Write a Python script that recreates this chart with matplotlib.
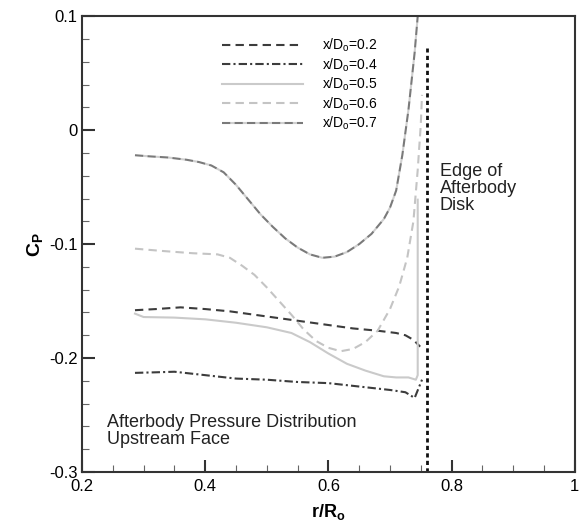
import matplotlib
matplotlib.use('Agg')
import matplotlib.pyplot as plt
from matplotlib.ticker import MultipleLocator, FuncFormatter

plt.rcParams['font.family'] = ['Liberation Sans', 'DejaVu Sans']
plt.rcParams['mathtext.fontset'] = 'custom'
plt.rcParams['mathtext.rm'] = 'Liberation Sans'
plt.rcParams['mathtext.bf'] = 'Liberation Sans:bold'
plt.rcParams['axes.unicode_minus'] = False

# datos (r/R0, Cp)
x_02 = [0.286, 0.32, 0.36, 0.40, 0.44, 0.48, 0.52, 0.56, 0.60, 0.64, 0.68, 0.71, 0.725, 0.738, 0.749]
cp_02 = [-0.158, -0.157, -0.1555, -0.157, -0.159, -0.162, -0.165, -0.168, -0.171, -0.174, -0.176,
         -0.178, -0.180, -0.184, -0.190]

x_04 = [0.286, 0.32, 0.35, 0.40, 0.45, 0.50, 0.55, 0.60, 0.65, 0.70, 0.725, 0.74, 0.752]
cp_04 = [-0.213, -0.2125, -0.212, -0.215, -0.218, -0.219, -0.221, -0.222, -0.225, -0.228, -0.230,
         -0.235, -0.219]

x_05 = [0.286, 0.30, 0.35, 0.40, 0.45, 0.50, 0.54, 0.57, 0.60, 0.63, 0.66, 0.69, 0.71, 0.73, 0.742,
        0.745, 0.745]
cp_05 = [-0.161, -0.164, -0.1645, -0.166, -0.169, -0.173, -0.178, -0.186, -0.196, -0.205, -0.211,
         -0.216, -0.217, -0.217, -0.219, -0.215, -0.061]

x_06 = [0.286, 0.33, 0.38, 0.42, 0.44, 0.46, 0.48, 0.50, 0.52, 0.54, 0.56, 0.58, 0.60, 0.62, 0.64,
        0.66, 0.68, 0.70, 0.715, 0.728, 0.738, 0.745, 0.750, 0.752]
cp_06 = [-0.104, -0.106, -0.108, -0.109, -0.112, -0.119, -0.127, -0.138, -0.150, -0.162, -0.175,
         -0.185, -0.191, -0.194, -0.192, -0.186, -0.176, -0.157, -0.137, -0.112, -0.080, -0.035,
         0.005, 0.031]

x_07 = [0.286, 0.31, 0.34, 0.37, 0.39, 0.41, 0.43, 0.45, 0.47, 0.49, 0.51, 0.53, 0.55, 0.57, 0.59,
        0.61, 0.63, 0.65, 0.67, 0.69, 0.70, 0.71, 0.72, 0.73, 0.74, 0.745]
cp_07 = [-0.022, -0.023, -0.024, -0.026, -0.028, -0.031, -0.037, -0.048, -0.061, -0.074, -0.085,
         -0.095, -0.103, -0.109, -0.112, -0.111, -0.107, -0.100, -0.091, -0.078, -0.068, -0.053,
         -0.022, 0.018, 0.068, 0.1]

edge_x = 0.76
edge_cp = [-0.3, 0.072]

labels = ['0.2', '0.4', '0.5', '0.6', '0.7']

fig = plt.figure(figsize=(5.8, 5.23), dpi=100)
ax = fig.add_axes([0.1414, 0.0975, 0.8496, 0.8715])

ax.plot(x_02, cp_02, color='#3c3c3c', lw=1.5, dashes=(4, 2.5), label=r'x/D$_\mathregular{o}$=' + labels[0])
ax.plot(x_04, cp_04, color='#3c3c3c', lw=1.5, dashes=(4, 1.5, 1, 1.5), label=r'x/D$_\mathregular{o}$=' + labels[1])
ax.plot(x_05, cp_05, color='#cacaca', lw=1.5, label=r'x/D$_\mathregular{o}$=' + labels[2])
ax.plot(x_06, cp_06, color='#c4c4c4', lw=1.5, dashes=(4, 2.5), label=r'x/D$_\mathregular{o}$=' + labels[3])
ax.plot(x_07, cp_07, color='#7a7a7a', lw=1.5, dashes=(4, 2), gapcolor='#cfcfcf', label=r'x/D$_\mathregular{o}$=' + labels[4])

# borde del disco
ax.plot([edge_x, edge_x], edge_cp, color='#111111', lw=2, dashes=(1.5, 1.2))

ax.set_xlim(0.2, 1.0)
ax.set_ylim(-0.3, 0.1)
ax.xaxis.set_major_locator(MultipleLocator(0.2))
ax.xaxis.set_minor_locator(MultipleLocator(0.05))
ax.yaxis.set_major_locator(MultipleLocator(0.1))
ax.yaxis.set_minor_locator(MultipleLocator(0.02))
fmt = FuncFormatter(lambda v, p: '{:g}'.format(round(v, 3)))
ax.xaxis.set_major_formatter(fmt)
ax.yaxis.set_major_formatter(fmt)
ax.tick_params(which='major', direction='in', length=9, width=1.5, labelsize=12, color='#333333')
ax.tick_params(axis='x', which='major', pad=5)
ax.tick_params(axis='y', which='major', pad=3)
ax.tick_params(which='minor', direction='in', length=5, width=0.8, color='#666666')
for s in ax.spines.values():
    s.set_linewidth(1.5)
    s.set_color('#333333')

ax.set_xlabel(r'$\mathbf{r/R_o}$', fontsize=13, labelpad=6)
ax.set_ylabel(r'$\mathbf{C_P}$', fontsize=14, labelpad=3)

ax.text(0.726, 0.678, 'Edge of\nAfterbody\nDisk', transform=ax.transAxes, fontsize=13,
        va='top', ha='left', color='#222222', linespacing=1.0)
ax.text(0.051, 0.128, 'Afterbody Pressure Distribution\nUpstream Face', transform=ax.transAxes,
        fontsize=13, va='top', ha='left', color='#222222', linespacing=1.0)

ax.legend(loc='upper left', bbox_to_anchor=(0.284, 0.955), frameon=False, fontsize=10,
          handlelength=5.8, handletextpad=1.4, labelspacing=0.15, borderpad=0, borderaxespad=0)

fig.savefig('out.png', dpi=100)
